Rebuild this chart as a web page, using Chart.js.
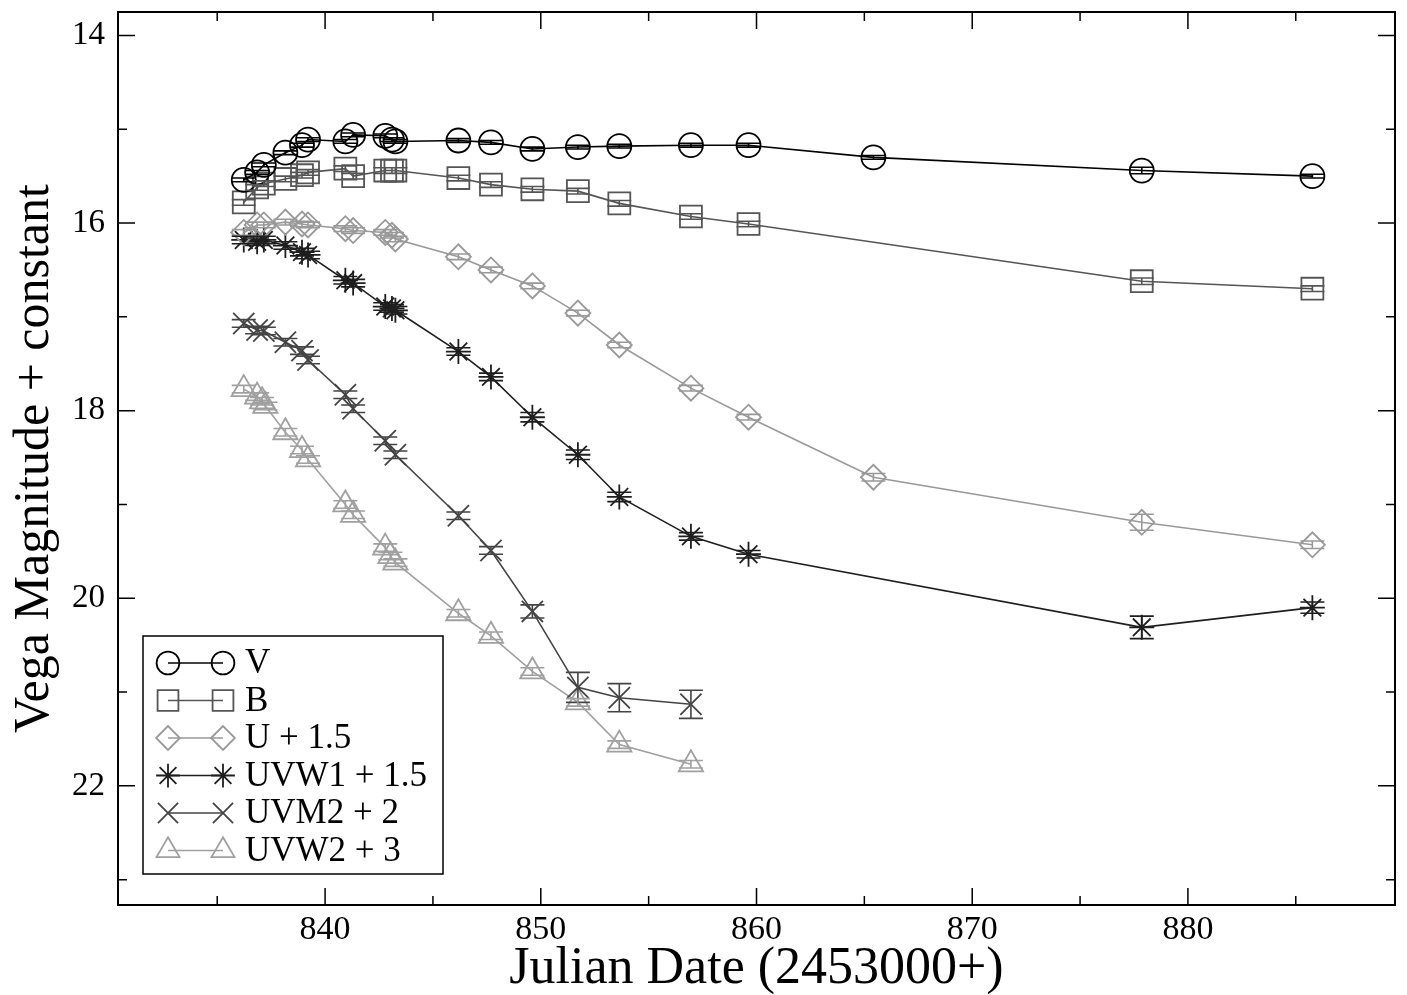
<!DOCTYPE html>
<html>
<head>
<meta charset="utf-8">
<script src="https://cdn.jsdelivr.net/npm/chart.js@4/dist/chart.umd.min.js"></script>
<style>
  html, body { margin: 0; padding: 0; background: #fff; }
  #wrap { width: 1407px; height: 995px; }
</style>
</head>
<body>
<div id="wrap"><canvas id="lc" width="1407" height="995"></canvas></div>
<script>
// light curves, Julian date (2453000+) and Vega magnitude (+ offset)
const vJD   = [836.23, 836.85, 837.16, 838.16, 838.93, 839.21, 840.94, 841.30, 842.79, 843.10, 843.26, 846.18, 847.69, 849.61, 851.72, 853.64, 856.96, 859.63, 865.42, 877.86, 885.77];
const vMag  = [15.54, 15.46, 15.38, 15.25, 15.17, 15.11, 15.13, 15.06, 15.07, 15.11, 15.13, 15.12, 15.14, 15.21, 15.19, 15.18, 15.17, 15.17, 15.30, 15.44, 15.50];
const vErr  = [0.02, 0.02, 0.02, 0.02, 0.02, 0.02, 0.02, 0.02, 0.02, 0.02, 0.02, 0.02, 0.02, 0.02, 0.02, 0.02, 0.02, 0.02, 0.02, 0.035, 0.02];

const bJD   = [836.23, 836.85, 837.16, 838.16, 838.93, 839.21, 840.94, 841.30, 842.79, 843.10, 843.26, 846.18, 847.69, 849.61, 851.72, 853.64, 856.96, 859.63, 877.86, 885.77];
const bMag  = [15.78, 15.62, 15.58, 15.53, 15.49, 15.46, 15.42, 15.50, 15.44, 15.44, 15.44, 15.52, 15.59, 15.64, 15.66, 15.79, 15.93, 16.01, 16.62, 16.70];
const bErr  = [0.03, 0.03, 0.03, 0.03, 0.03, 0.03, 0.03, 0.03, 0.03, 0.03, 0.03, 0.03, 0.03, 0.03, 0.03, 0.03, 0.03, 0.03, 0.035, 0.03];

const uJD   = [836.23, 836.85, 837.16, 838.16, 838.93, 839.21, 840.94, 841.30, 842.79, 843.10, 843.26, 846.18, 847.69, 849.61, 851.72, 853.64, 856.96, 859.63, 865.42, 877.86, 885.77];
const uMag  = [16.10, 16.02, 16.02, 15.99, 16.01, 16.02, 16.06, 16.08, 16.10, 16.13, 16.17, 16.36, 16.50, 16.67, 16.96, 17.30, 17.76, 18.07, 18.71, 19.19, 19.43];
const uErr  = [0.03, 0.03, 0.03, 0.03, 0.03, 0.03, 0.03, 0.03, 0.03, 0.03, 0.03, 0.03, 0.03, 0.03, 0.03, 0.03, 0.03, 0.03, 0.04, 0.085, 0.04];

const w1JD  = [836.23, 836.85, 837.16, 838.16, 838.93, 839.21, 840.94, 841.30, 842.79, 843.10, 843.26, 846.18, 847.69, 849.61, 851.72, 853.64, 856.96, 859.63, 877.86, 885.77];
const w1Mag = [16.18, 16.20, 16.18, 16.24, 16.31, 16.34, 16.61, 16.64, 16.89, 16.91, 16.93, 17.37, 17.64, 18.07, 18.47, 18.92, 19.34, 19.53, 20.31, 20.10];
const w1Err = [0.04, 0.04, 0.04, 0.04, 0.04, 0.04, 0.04, 0.04, 0.04, 0.04, 0.04, 0.04, 0.04, 0.05, 0.05, 0.05, 0.04, 0.04, 0.12, 0.06];

const m2JD  = [836.23, 836.85, 837.16, 838.16, 838.93, 839.21, 840.94, 841.30, 842.79, 843.26, 846.18, 847.69, 849.61, 851.72, 853.64, 856.96];
const m2Mag = [17.07, 17.14, 17.15, 17.27, 17.36, 17.46, 17.83, 17.98, 18.32, 18.47, 19.12, 19.49, 20.14, 20.95, 21.06, 21.13];
const m2Err = [0.04, 0.04, 0.04, 0.04, 0.04, 0.04, 0.04, 0.04, 0.04, 0.04, 0.04, 0.04, 0.07, 0.16, 0.15, 0.15];

const w2JD  = [836.23, 836.85, 837.08, 837.23, 838.16, 838.93, 839.21, 840.94, 841.30, 842.79, 843.03, 843.26, 846.18, 847.69, 849.61, 851.72, 853.64, 856.96];
const w2Mag = [17.77, 17.85, 17.90, 17.95, 18.23, 18.42, 18.52, 19.00, 19.11, 19.46, 19.55, 19.62, 20.16, 20.40, 20.78, 21.11, 21.56, 21.77];
const w2Err = [0.04, 0.04, 0.04, 0.04, 0.04, 0.04, 0.04, 0.04, 0.04, 0.04, 0.04, 0.04, 0.04, 0.04, 0.04, 0.04, 0.04, 0.04];

const xTicks = [840, 850, 860, 870, 880];
const xMinor = [835, 845, 855, 865, 875, 885];
const yTicks = [14, 16, 18, 20, 22];
const yMinor = [15, 17, 19, 21, 23];

const serif = '"Liberation Serif", "Times New Roman", serif';

function mk(label, jd, mag, err, color, style, radius) {
  return {
    label: label,
    data: jd.map((x, i) => ({ x: x, y: mag[i] })),
    errors: err,
    showLine: true,
    borderColor: color,
    borderWidth: 1.6,
    pointStyle: style,
    pointRadius: radius,
    pointHoverRadius: radius,
    pointBorderColor: color,
    pointBackgroundColor: 'rgba(0,0,0,0)',
    pointBorderWidth: 1.8,
    tension: 0
  };
}

const datasets = [
  mk('V',          vJD,  vMag,  vErr,  '#000000', 'circle',    12),
  mk('B',          bJD,  bMag,  bErr,  '#555555', 'rect',      15.5),
  mk('U + 1.5',    uJD,  uMag,  uErr,  '#999999', 'rectRot',   12.5),
  mk('UVW1 + 1.5', w1JD, w1Mag, w1Err, '#1e1e1e', 'star',      12.5),
  mk('UVM2 + 2',   m2JD, m2Mag, m2Err, '#444444', 'crossRot',  15),
  mk('UVW2 + 3',   w2JD, w2Mag, w2Err, '#a0a0a0', 'triangle',  14)
];

// frame around the plot with inward ticks on all four sides
const frame = {
  id: 'frame',
  afterDraw(chart) {
    const { ctx, chartArea: a, scales: { x, y } } = chart;
    ctx.save();
    ctx.strokeStyle = '#000';
    ctx.lineWidth = 2;
    ctx.strokeRect(a.left, a.top, a.right - a.left, a.bottom - a.top);
    ctx.lineWidth = 1.5;
    ctx.beginPath();
    const tx = (v, len) => {
      const px = x.getPixelForValue(v);
      ctx.moveTo(px, a.bottom); ctx.lineTo(px, a.bottom - len);
      ctx.moveTo(px, a.top);    ctx.lineTo(px, a.top + len);
    };
    const ty = (v, len) => {
      const py = y.getPixelForValue(v);
      ctx.moveTo(a.left, py);  ctx.lineTo(a.left + len, py);
      ctx.moveTo(a.right, py); ctx.lineTo(a.right - len, py);
    };
    xTicks.forEach(v => tx(v, 17));
    xMinor.forEach(v => tx(v, 9));
    yTicks.forEach(v => ty(v, 17));
    yMinor.forEach(v => ty(v, 9));
    ctx.stroke();
    ctx.restore();
  }
};

// vertical error bars with caps
const errorBars = {
  id: 'errorBars',
  afterDatasetsDraw(chart) {
    const { ctx, scales: { y } } = chart;
    ctx.save();
    chart.data.datasets.forEach((ds, i) => {
      const meta = chart.getDatasetMeta(i);
      ctx.strokeStyle = ds.borderColor;
      ctx.lineWidth = 1.6;
      ctx.beginPath();
      meta.data.forEach((pt, j) => {
        const e = ds.errors[j];
        const v = ds.data[j].y;
        const y1 = y.getPixelForValue(v - e);
        const y2 = y.getPixelForValue(v + e);
        ctx.moveTo(pt.x, y1); ctx.lineTo(pt.x, y2);
        ctx.moveTo(pt.x - 12, y1); ctx.lineTo(pt.x + 12, y1);
        ctx.moveTo(pt.x - 12, y2); ctx.lineTo(pt.x + 12, y2);
      });
      ctx.stroke();
    });
    ctx.restore();
  }
};

// boxed legend in the lower-left corner of the plot
const boxLegend = {
  id: 'boxLegend',
  afterDraw(chart) {
    const { ctx, chartArea: a } = chart;
    const left = a.left + 25, top = a.bottom - 269, w = 300, h = 238;
    ctx.save();
    ctx.fillStyle = '#fff';
    ctx.fillRect(left, top, w, h);
    ctx.strokeStyle = '#000';
    ctx.lineWidth = 1.5;
    ctx.strokeRect(left, top, w, h);
    ctx.font = '35px ' + serif;
    ctx.textBaseline = 'middle';
    chart.data.datasets.forEach((ds, i) => {
      const cy = top + 27 + i * 37.5;
      const x1 = left + 25, x2 = left + 80;
      ctx.strokeStyle = ds.borderColor;
      ctx.lineWidth = 1.6;
      ctx.beginPath();
      ctx.moveTo(x1, cy); ctx.lineTo(x2, cy);
      ctx.stroke();
      ctx.fillStyle = 'rgba(0,0,0,0)';
      ctx.lineWidth = 1.8;
      const opts = { pointStyle: ds.pointStyle, radius: ds.pointRadius * 0.95, rotation: 0, borderWidth: 1.8 };
      Chart.helpers.drawPoint(ctx, opts, x1, cy);
      Chart.helpers.drawPoint(ctx, opts, x2, cy);
      ctx.fillStyle = '#000';
      ctx.fillText(ds.label, left + 102, cy + 1);
    });
    ctx.restore();
  }
};

new Chart(document.getElementById('lc'), {
  type: 'scatter',
  data: { datasets: datasets },
  options: {
    responsive: false,
    animation: false,
    layout: { autoPadding: false, padding: { top: 12, right: 12, left: 0, bottom: 0 } },
    scales: {
      x: {
        type: 'linear',
        min: 830.4,
        max: 889.6,
        afterBuildTicks: s => { s.ticks = xTicks.map(v => ({ value: v })); },
        afterFit: s => { s.height = 90; s.paddingLeft = 0; s.paddingRight = 0; },
        grid: { display: false, drawTicks: false },
        border: { display: false },
        ticks: { color: '#000', padding: 5, maxRotation: 0, font: { family: serif, size: 34 } },
        title: {
          display: true,
          text: 'Julian Date (2453000+)',
          color: '#000',
          font: { family: serif, size: 52, lineHeight: 1 },
          padding: { top: 0, bottom: 0 }
        }
      },
      y: {
        type: 'linear',
        reverse: true,
        min: 13.75,
        max: 23.27,
        afterBuildTicks: s => { s.ticks = yTicks.map(v => ({ value: v })); },
        afterFit: s => { s.width = 118; s.paddingTop = 0; s.paddingBottom = 0; },
        grid: { display: false, drawTicks: false },
        border: { display: false },
        ticks: { color: '#000', padding: 13, font: { family: serif, size: 33 } },
        title: {
          display: true,
          text: 'Vega Magnitude + constant',
          color: '#000',
          font: { family: serif, size: 50, lineHeight: 1 },
          padding: { top: 10, bottom: 0 }
        }
      }
    },
    plugins: {
      legend: { display: false },
      tooltip: { enabled: false }
    }
  },
  plugins: [frame, errorBars, boxLegend]
});
</script>
</body>
</html>
